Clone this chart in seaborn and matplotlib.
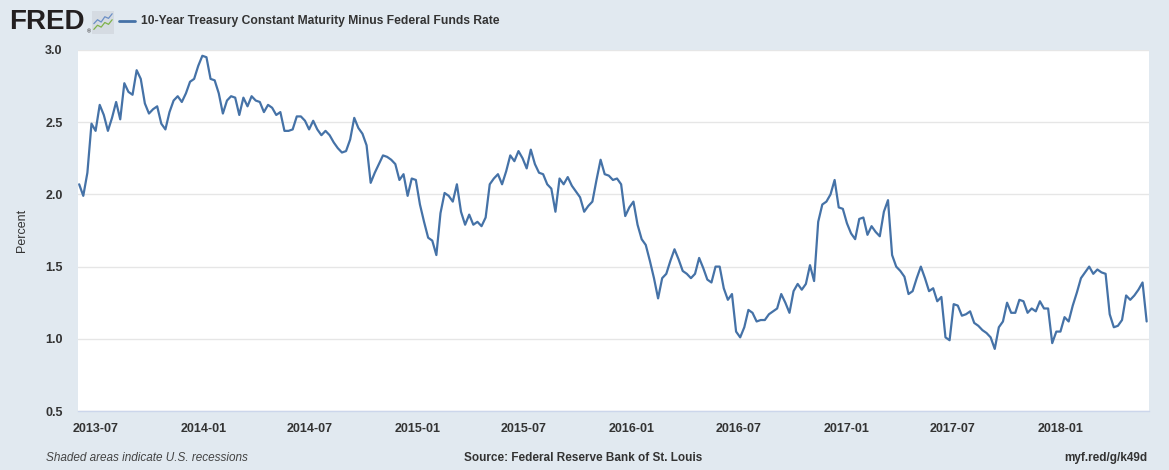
import pandas as pd
import matplotlib
matplotlib.use('Agg')
import matplotlib.pyplot as plt
import seaborn as sns
from matplotlib.lines import Line2D

# Weekly readings (Mondays) of 10Y Treasury minus Fed Funds, percent
vals_2013 = [2.07, 1.99, 2.15, 2.49, 2.44, 2.62, 2.55, 2.44, 2.53, 2.64,
             2.52, 2.77, 2.71, 2.69, 2.86, 2.80, 2.63, 2.56, 2.59, 2.61,
             2.49, 2.45, 2.57, 2.65, 2.68, 2.64, 2.70, 2.78, 2.80, 2.89,
             2.96]
vals_2014 = [2.95, 2.80, 2.79, 2.70, 2.56, 2.65, 2.68, 2.67, 2.55, 2.67,
             2.61, 2.68, 2.65, 2.64, 2.57, 2.62, 2.60, 2.55, 2.57, 2.44,
             2.44, 2.45, 2.54, 2.54, 2.51, 2.45, 2.51, 2.45, 2.41, 2.44,
             2.41, 2.36, 2.32, 2.29, 2.30, 2.38, 2.53, 2.46, 2.42, 2.34,
             2.08, 2.15, 2.21, 2.27, 2.26, 2.24, 2.21, 2.10, 2.14, 1.99,
             2.11, 2.10]
vals_2015 = [1.93, 1.81, 1.70, 1.68, 1.58, 1.87, 2.01, 1.99, 1.95, 2.07,
             1.88, 1.79, 1.86, 1.79, 1.81, 1.78, 1.84, 2.07, 2.11, 2.14,
             2.07, 2.16, 2.27, 2.23, 2.30, 2.25, 2.18, 2.31, 2.21, 2.15,
             2.14, 2.07, 2.04, 1.88, 2.11, 2.07, 2.12, 2.06, 2.02, 1.98,
             1.88, 1.92, 1.95, 2.10, 2.24, 2.14, 2.13, 2.10, 2.11, 2.07,
             1.85, 1.91]
vals_2016 = [1.95, 1.79, 1.69, 1.65, 1.54, 1.42, 1.28, 1.42, 1.45, 1.54,
             1.62, 1.55, 1.47, 1.45, 1.42, 1.45, 1.56, 1.49, 1.41, 1.39,
             1.50, 1.50, 1.35, 1.27, 1.31, 1.05, 1.01, 1.08, 1.20, 1.18,
             1.12, 1.13, 1.13, 1.17, 1.19, 1.21, 1.31, 1.25, 1.18, 1.33,
             1.38, 1.34, 1.38, 1.51, 1.40, 1.81, 1.93, 1.95, 2.00, 2.10,
             1.91, 1.90]
vals_2017 = [1.80, 1.73, 1.69, 1.83, 1.84, 1.72, 1.78, 1.74, 1.71, 1.88,
             1.96, 1.58, 1.50, 1.47, 1.43, 1.31, 1.33, 1.42, 1.50, 1.42,
             1.33, 1.35, 1.26, 1.29, 1.01, 0.99, 1.24, 1.23, 1.16, 1.17,
             1.19, 1.11, 1.09, 1.06, 1.04, 1.01, 0.93, 1.08, 1.12, 1.25,
             1.18, 1.18, 1.27, 1.26, 1.18, 1.21, 1.19, 1.26, 1.21, 1.21,
             0.97, 1.05]
vals_2018 = [1.05, 1.15, 1.12, 1.23, 1.32, 1.42, 1.46, 1.50, 1.45, 1.48,
             1.46, 1.45, 1.17, 1.08, 1.09, 1.13, 1.30, 1.27, 1.30, 1.34,
             1.39, 1.12]

values = vals_2013 + vals_2014 + vals_2015 + vals_2016 + vals_2017 + vals_2018
dates = pd.date_range('2013-06-03', '2018-05-28', freq='W-MON')

x_ticks = ['2013-07', '2014-01', '2014-07', '2015-01', '2015-07', '2016-01',
           '2016-07', '2017-01', '2017-07', '2018-01']
y_ticks = [0.5, 1.0, 1.5, 2.0, 2.5, 3.0]

# small logo icon lines
icon_blue = [0.45, 0.62, 0.52, 0.75, 0.68, 0.88]
icon_green = [0.2, 0.38, 0.3, 0.5, 0.42, 0.62]

spread = pd.DataFrame({'date': dates, 'value': values})

sns.set_theme(style='white')
plt.rcParams['font.family'] = ['Liberation Sans', 'DejaVu Sans']

bg = '#e1e9f0'
line_col = '#4572a7'
txt = '#333333'
W, H = 1169, 470

fig = plt.figure(figsize=(W / 100, H / 100), dpi=100, facecolor=bg)
ax = fig.add_axes([78 / W, 1 - 411 / H, (1149 - 78) / W, (411 - 50) / H])
ax.set_facecolor('white')

sns.lineplot(data=spread, x='date', y='value', ax=ax, color=line_col, linewidth=1.6)

ax.set_xlim(pd.Timestamp('2013-06-01'), pd.Timestamp('2018-06-01'))
ax.set_ylim(0.5, 3.0)
ax.set_yticks(y_ticks)
ax.set_yticklabels(['%.1f' % t for t in y_ticks])
ax.set_xticks(pd.to_datetime(x_ticks))
ax.set_xticklabels(x_ticks)
ax.set_xlabel('')
ax.set_ylabel('')

ax.yaxis.grid(True, color='#e6e6e6', linewidth=1)
ax.xaxis.grid(False)
for s in ['top', 'left', 'right']:
    ax.spines[s].set_visible(False)
ax.spines['bottom'].set_color('#ccd6eb')
ax.spines['bottom'].set_linewidth(1)

ax.tick_params(axis='x', length=7, width=1, color='#ccd6eb', pad=2,
               labelsize=9, labelcolor=txt)
ax.tick_params(axis='y', length=0, pad=11, labelsize=9, labelcolor=txt)
plt.setp(ax.get_xticklabels(), fontweight='bold')
plt.setp(ax.get_yticklabels(), fontweight='bold')

fig.text(22 / W, 1 - 230 / H, 'Percent', rotation=90, ha='center', va='center',
         fontsize=9, color=txt)

# header
fig.text(9 / W, 1 - 22 / H, 'FRED', fontsize=20, fontweight='bold',
         color='#231f20', ha='left', va='center')
fig.text(86.5 / W, 1 - 32 / H, '\u00ae', fontsize=4, color='#231f20', ha='left', va='center')

icon = fig.add_axes([92 / W, 1 - 34 / H, 22 / W, 23 / H])
icon.set_facecolor('#d5dbe2')
icon.plot(range(len(icon_blue)), icon_blue, color='#6b8fc6', lw=0.9)
icon.plot(range(len(icon_green)), icon_green, color='#7fb24a', lw=0.9)
icon.set_xlim(-0.5, len(icon_blue) - 0.5)
icon.set_ylim(0, 1)
icon.set_xticks([])
icon.set_yticks([])
for s in icon.spines.values():
    s.set_visible(False)

fig.add_artist(Line2D([119 / W, 135 / W], [1 - 21 / H, 1 - 21 / H],
                      color=line_col, lw=2, transform=fig.transFigure))
fig.text(141 / W, 1 - 21 / H, '10-Year Treasury Constant Maturity Minus Federal Funds Rate',
         fontsize=8.7, fontweight='bold', color=txt, ha='left', va='center')

# footer
fig.text(46 / W, 1 - 458 / H, 'Shaded areas indicate U.S. recessions', style='italic',
         fontsize=8.5, color='#444444', ha='left', va='center')
fig.text(583 / W, 1 - 458 / H, 'Source: Federal Reserve Bank of St. Louis',
         fontsize=8.5, fontweight='bold', color=txt, ha='center', va='center')
fig.text(1147 / W, 1 - 458 / H, 'myf.red/g/k49d', fontsize=8.5, fontweight='bold',
         color=txt, ha='right', va='center')

fig.savefig('out.png', dpi=100, facecolor=bg)
